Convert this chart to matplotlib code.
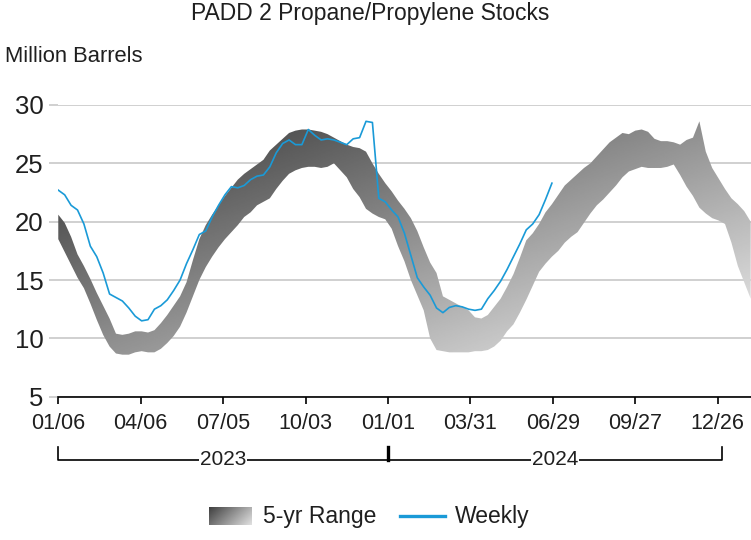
import numpy as np
import pandas as pd
import matplotlib
matplotlib.use("Agg")
import matplotlib.pyplot as plt
import matplotlib.dates as mdates
from matplotlib.lines import Line2D

plt.rcParams['font.family'] = ['Liberation Sans', 'DejaVu Sans']

# ---- data (million barrels) ----
start = pd.Timestamp("2023-01-06")

# 5-year range, weekly points starting 2023-01-06
range_upper = [20.6, 19.9, 18.7, 17.2, 16.2, 15.1, 13.9, 12.8, 11.7, 10.4,
               10.3, 10.4, 10.6, 10.6, 10.5, 10.7, 11.3, 12.0, 12.8, 13.6,
               14.8, 16.7, 18.5, 19.7, 20.6, 21.4, 22.2, 22.9, 23.6, 24.1,
               24.5, 24.9, 25.3, 26.1, 26.6, 27.1, 27.6, 27.8, 27.9, 27.9,
               27.8, 27.7, 27.5, 27.2, 26.9, 26.6, 26.4, 26.3, 26.0, 25.0,
               24.1, 23.3, 22.6, 21.8, 21.1, 20.3, 19.2, 17.8, 16.5, 15.6,
               13.6, 13.3, 13.0, 12.7, 12.4, 11.8, 11.7, 12.0, 12.7, 13.4,
               14.4, 15.5, 16.9, 18.4, 19.0, 19.8, 20.8, 21.5, 22.3, 23.1,
               23.6, 24.1, 24.6, 25.0, 25.6, 26.2, 26.8, 27.2, 27.6, 27.5,
               27.8, 27.9, 27.7, 27.1, 26.9, 26.9, 26.8, 26.6, 27.0, 27.2,
               28.6, 26.0, 24.6, 23.7, 22.8, 22.0, 21.5, 20.9, 20.0]
range_lower = [18.5, 17.4, 16.3, 15.2, 14.3, 13.0, 11.6, 10.3, 9.3, 8.7,
               8.6, 8.6, 8.8, 8.9, 8.8, 8.8, 9.1, 9.6, 10.2, 11.0,
               12.2, 13.6, 15.0, 16.1, 17.0, 17.8, 18.5, 19.1, 19.7, 20.4,
               20.8, 21.4, 21.7, 22.0, 22.8, 23.5, 24.1, 24.4, 24.6, 24.7,
               24.7, 24.6, 24.7, 25.0, 24.4, 23.8, 22.8, 22.1, 21.1, 20.7,
               20.4, 20.2, 19.4, 17.9, 16.6, 15.0, 13.7, 12.4, 10.0, 9.0,
               8.9, 8.8, 8.8, 8.8, 8.8, 8.9, 8.9, 9.0, 9.3, 9.8,
               10.6, 11.2, 12.2, 13.3, 14.5, 15.7, 16.4, 17.0, 17.5, 18.2,
               18.7, 19.1, 19.9, 20.7, 21.4, 21.9, 22.5, 23.1, 23.8, 24.3,
               24.5, 24.7, 24.6, 24.6, 24.6, 24.7, 24.9, 24.0, 23.0, 22.2,
               21.2, 20.7, 20.3, 20.1, 19.8, 18.2, 16.2, 14.8, 13.4]

# weekly stocks, 2023-01-06 to 2024-06-28
weekly = [22.7, 22.3, 21.4, 21.0, 19.8, 17.9, 17.0, 15.6, 13.8, 13.5,
          13.2, 12.6, 11.9, 11.5, 11.6, 12.5, 12.8, 13.3, 14.1, 15.0,
          16.4, 17.6, 18.9, 19.2, 20.4, 21.4, 22.3, 23.0, 22.9, 23.1,
          23.6, 23.9, 24.0, 24.7, 25.9, 26.7, 27.0, 26.6, 26.6, 27.9,
          27.4, 27.0, 27.1, 27.0, 26.8, 26.6, 27.1, 27.2, 28.6, 28.5,
          22.0, 21.7, 21.0, 20.4, 19.0, 17.1, 15.2, 14.4, 13.7, 12.6,
          12.2, 12.65, 12.8, 12.7, 12.5, 12.4, 12.5, 13.4, 14.1, 14.9,
          15.9, 17.0, 18.1, 19.3, 19.8, 20.6, 21.9, 23.3]

range_dates = pd.date_range(start, periods=len(range_upper), freq="7D")
weekly_dates = pd.date_range(start, periods=len(weekly), freq="7D")

tick_dates = pd.to_datetime(["2023-01-06", "2023-04-06", "2023-07-05", "2023-10-03",
                             "2024-01-01", "2024-03-31", "2024-06-29", "2024-09-27",
                             "2024-12-26"])
tick_labels = ["01/06", "04/06", "07/05", "10/03", "01/01", "03/31", "06/29", "09/27", "12/26"]
years = ["2023", "2024"]
year_spans = [("2023-01-06", "2024-01-01"), ("2024-01-01", "2024-12-31")]

blue = "#1a9ad7"
txt = "#1f1f1f"
end = start + pd.Timedelta(days=758)

# ---- figure ----
fig = plt.figure(figsize=(7.51, 5.40), dpi=100)
ax = fig.add_axes([0.0776, 0.2654, 0.9244, 0.5402])

# shaded range: gray gradient clipped to the band
band = ax.fill_between(range_dates, range_lower, range_upper,
                       facecolor="none", edgecolor="none")
x0, x1 = mdates.date2num(start), mdates.date2num(end)
dd = np.linspace(0, 758, 400)
vv = np.linspace(30, 5, 300)
D, V = np.meshgrid(dd, vv)
shade = np.clip((40.8 + 0.133 * D + 4.66 * (30 - V)) / 255, 0, 1)
im = ax.imshow(shade, cmap="gray", vmin=0, vmax=1, extent=[x0, x1, 5, 30],
               aspect="auto", origin="upper", interpolation="bilinear", zorder=2)
im.set_clip_path(band.get_paths()[0], transform=ax.transData)

ax.plot(weekly_dates, weekly, color=blue, lw=1.2, zorder=3)

ax.set_xlim(start, end)
ax.set_ylim(5, 30)
ax.set_yticks([5, 10, 15, 20, 25, 30])
ax.yaxis.grid(True, color="#c8c8c8", lw=1.2)
ax.set_axisbelow(True)
for s in ["left", "top", "right"]:
    ax.spines[s].set_visible(False)
ax.spines["bottom"].set_color("black")
ax.spines["bottom"].set_linewidth(1.2)
ax.spines["bottom"].set_zorder(4)

ax.set_xticks(tick_dates)
ax.set_xticklabels(tick_labels)
ax.tick_params(axis="x", length=5, width=1.2, color="black", pad=7,
               labelsize=15.5, labelcolor=txt)
ax.tick_params(axis="y", length=6.5, width=1.2, color="#c8c8c8", pad=4,
               labelsize=18.5, labelcolor=txt)

# year brackets under the date labels
trans = ax.get_xaxis_transform()
yb_top, yb_bot = -0.172, -0.217
for label, (a, b) in zip(years, year_spans):
    a, b = pd.Timestamp(a), pd.Timestamp(b)
    ax.plot([a, a, b, b], [yb_top, yb_bot, yb_bot, yb_top], color="black",
            lw=1.2, transform=trans, clip_on=False)
    mid = a + (b - a) / 2
    ax.text(mid, yb_bot, label, transform=trans, ha="center", va="center",
            fontsize=15, color=txt,
            bbox=dict(facecolor="white", edgecolor="none", pad=0.5))
jan = pd.Timestamp("2024-01-01")
ax.plot([jan, jan], [yb_top, yb_bot], color="black", lw=2.4,
        transform=trans, clip_on=False)

# titles
fig.text(0.493, 0.975, "PADD 2 Propane/Propylene Stocks", ha="center",
         va="center", fontsize=16.5, color=txt)
fig.text(5 / 751, 1 - 57 / 540, "Million Barrels", ha="left", va="center",
         fontsize=15.8, color=txt)

# legend
lax = fig.add_axes([209 / 751, 15 / 540, 43 / 751, 18 / 540])
gx, gy = np.meshgrid(np.linspace(0, 1, 60), np.linspace(0, 1, 30))
lax.imshow(0.25 + 0.63 * (0.7 * gx + 0.3 * gy), cmap="gray", vmin=0, vmax=1,
           aspect="auto", interpolation="bilinear")
lax.axis("off")
ly = 1 - 516 / 540
fig.text(263 / 751, ly, "5-yr Range", ha="left", va="center", fontsize=16.5, color=txt)
fig.add_artist(Line2D([400 / 751, 445 / 751], [ly, ly], color=blue, lw=2.4))
fig.text(455 / 751, ly, "Weekly", ha="left", va="center", fontsize=16.5, color=txt)

fig.savefig("out.png", dpi=100)
